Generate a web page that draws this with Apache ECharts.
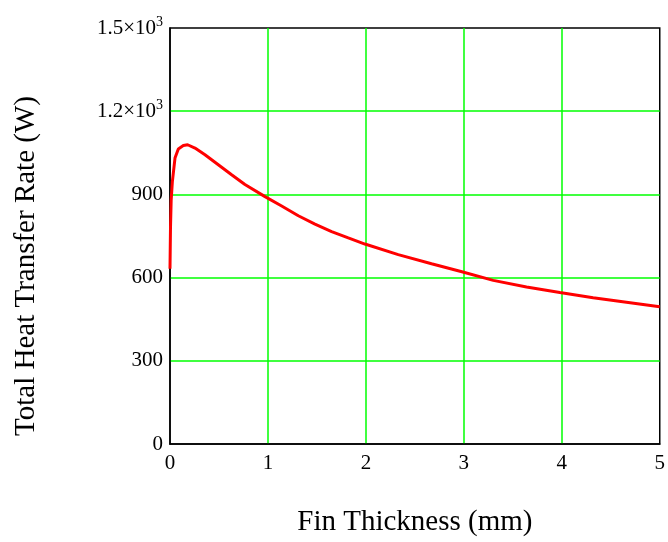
<!DOCTYPE html>
<html>
<head>
<meta charset="utf-8">
<script src="https://cdn.jsdelivr.net/npm/echarts@6/dist/echarts.min.js"></script>
<style>html,body{margin:0;padding:0;background:#fff}#c{width:668px;height:542px}</style>
</head>
<body>
<div id="c"></div>
<script>
var thickness = [0, 0.005, 0.012, 0.024, 0.051, 0.085, 0.136, 0.18, 0.255, 0.357, 0.493, 0.629, 0.765, 0.97, 1.14, 1.31, 1.48, 1.65, 1.82, 1.99, 2.33, 2.67, 2.98, 3.30, 3.64, 3.98, 4.32, 4.66, 5.0];
var heatRate  = [632, 780, 880, 945, 1031, 1064, 1076, 1079, 1067, 1043, 1007, 971, 936, 892, 858, 823, 793, 766, 743, 721, 683, 650, 621, 590, 566, 546, 527, 511, 495];
var xTicks = ['0', '1', '2', '3', '4', '5'];
var yTickLabels = {0: '0', 300: '300', 600: '600', 900: '900', 1200: '{a|1.2\u00d710}{s|3}', 1500: '{a|1.5\u00d710}{s|3}'};
var xTitle = 'Fin Thickness (mm)';
var yTitle = 'Total Heat Transfer Rate (W)';

var font = 'Liberation Serif';
var chart = echarts.init(document.getElementById('c'));
var pts = thickness.map(function (x, i) { return [x, heatRate[i]]; });
chart.setOption({
  animation: false,
  grid: { left: 170, right: 8, top: 28, bottom: 95, show: true, borderColor: '#000', borderWidth: 1.5, backgroundColor: 'transparent' },
  xAxis: {
    type: 'value', min: 0, max: 5, interval: 1,
    name: xTitle, nameLocation: 'middle', nameGap: 64,
    nameTextStyle: { fontFamily: font, fontSize: 29, color: '#000' },
    axisLine: { show: true, lineStyle: { color: '#000', width: 1.5 } },
    axisTick: { show: false },
    axisLabel: { fontFamily: font, fontSize: 21, color: '#000', margin: 9,
      formatter: function (v) { return xTicks[Math.round(v)]; } },
    splitLine: { show: true, showMinLine: false, showMaxLine: false, lineStyle: { color: '#00ff00', width: 1.5 } }
  },
  yAxis: {
    type: 'value', min: 0, max: 1500, interval: 300,
    axisLine: { show: true, lineStyle: { color: '#000', width: 1.5 } },
    axisTick: { show: false },
    axisLabel: { fontFamily: font, fontSize: 21, color: '#000', margin: 7,
      formatter: function (v) { return yTickLabels[v] !== undefined ? yTickLabels[v] : String(v); },
      rich: {
        a: { fontFamily: font, fontSize: 21, color: '#000' },
        s: { fontFamily: font, fontSize: 14, color: '#000', padding: [0, 0, 12, 0] }
      }
    },
    splitLine: { show: true, showMinLine: false, showMaxLine: false, lineStyle: { color: '#00ff00', width: 1.5 } }
  },
  graphic: [{
    type: 'text', x: 26, y: 266, rotation: Math.PI / 2,
    style: { text: yTitle, fontFamily: font, fontSize: 29, fill: '#000', textAlign: 'center', textVerticalAlign: 'middle' }
  }],
  series: [{
    type: 'line', data: pts, showSymbol: false, smooth: false,
    lineStyle: { color: '#ff0000', width: 3 }, z: 5
  }]
});
</script>
</body>
</html>
